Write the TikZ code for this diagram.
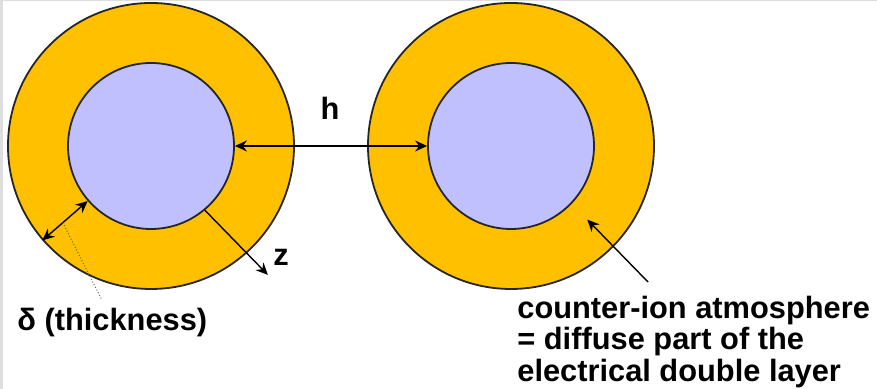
\documentclass[tikz,border=0pt]{standalone}
\usepackage{fontspec}
\setmainfont{Liberation Sans}
\usetikzlibrary{arrows.meta,calc}
\definecolor{edlshell}{RGB}{255,192,0}
\definecolor{edlcore}{RGB}{192,192,255}
\definecolor{edlframe}{RGB}{222,222,222}

\begin{document}
\begin{tikzpicture}[
    x=0.5pt, y=0.5pt,
    >={Stealth[length=6pt,width=5.5pt,inset=2pt]},
    tag/.style={font=\fontsize{15.4pt}{15.6pt}\selectfont\bfseries, inner sep=0pt},
    shell/.style={circle, draw=black!85, line width=0.9pt, fill=edlshell,
      minimum size=143pt, inner sep=0pt},
    core/.style={circle, draw=black!85, line width=0.9pt, fill=edlcore,
      minimum size=83pt, inner sep=0pt},
    lead/.style={line width=0.7pt},
  ]

  \useasboundingbox (0,0) rectangle (877,389);

  % thin frame on the left and top
  \fill[edlframe] (0,0) rectangle (3,389);
  \fill[edlframe] (0,387.5) rectangle (877,389);

  % the two particles: core + counter-ion shell
  \node[shell] (shellL) at (151,243) {};
  \node[core]  (coreL)  at (151,243) {};
  \node[shell] (shellR) at (511,243) {};
  \node[core]  (coreR)  at (511,243) {};

  % separation h
  \draw[lead, <->] (coreL.east) -- (coreR.west);
  \node[tag] (hlab) at (330,281) {h};

  % shell thickness delta
  \draw[lead, <->] (shellL.221) -- coordinate[pos=0.45] (dmid) (coreL.221);
  \node[tag, anchor=west] (dlab) at (17,66) {δ (thickness)};
  \coordinate (dfoot) at ($(dlab.north west)+(85,8)$);
  \draw[black!60, line width=0.5pt, densely dotted] (dmid) -- (dfoot);

  % radial coordinate z
  \coordinate (zend) at ($(coreL.center)+(-47.8:174)$);
  \draw[lead, ->] (coreL.-50) -- (zend);
  \node[tag] (zlab) at (281,132) {z};

  % counter-ion atmosphere
  \node[tag, anchor=north west, align=left] (cion) at (517,93)
    {counter-ion atmosphere\\= diffuse part of the\\electrical double layer};
  \coordinate (ctail) at ($(cion.north west)+(131,14)$);
  \coordinate (ctip) at ($(coreR.center)+(-44:106)$);
  \draw[lead, ->] (ctail) -- (ctip);

\end{tikzpicture}
\end{document}
